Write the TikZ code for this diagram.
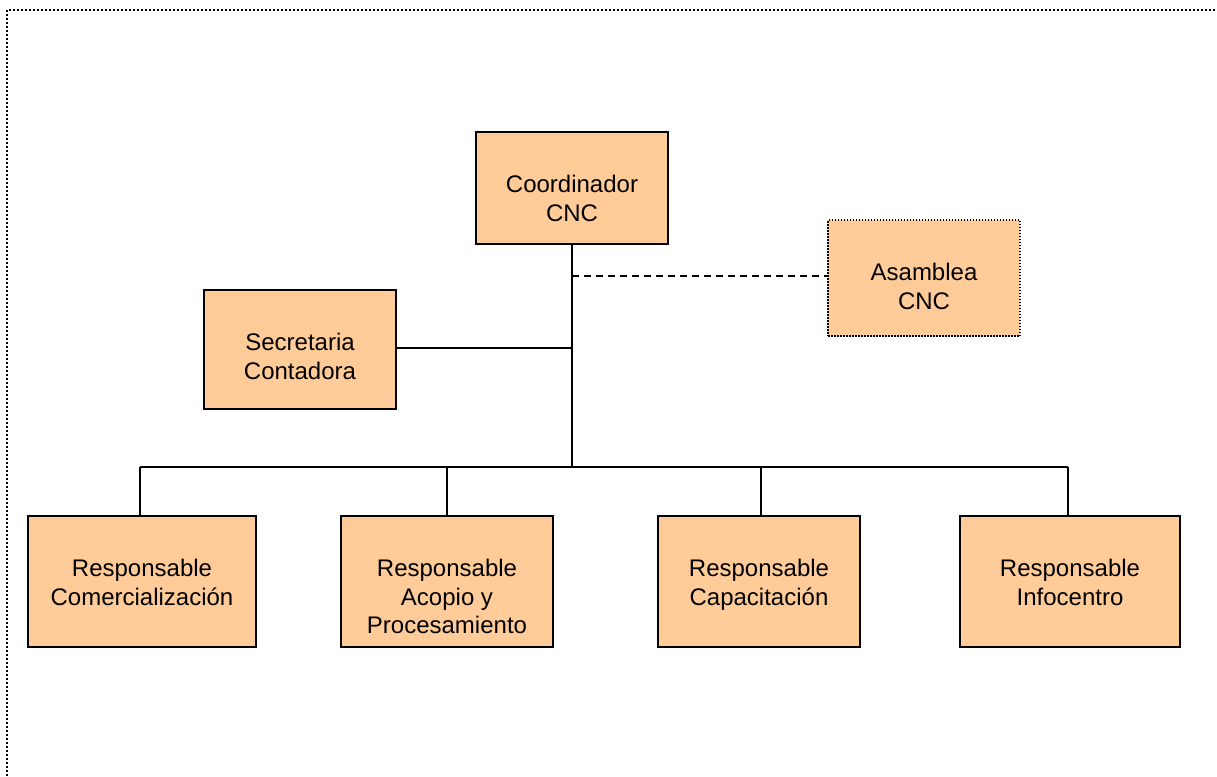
\documentclass[tikz,border=0pt]{standalone}
\usepackage{fontspec}
\setmainfont{Liberation Sans}
\definecolor{boxfill}{HTML}{FFCC99}
\begin{document}
\begin{tikzpicture}[x=1pt,y=-1pt,
  orgbox/.style={draw=black,line width=2pt,fill=boxfill,inner sep=0pt},
  dotbox/.style={draw=black,line width=1.5pt,dash pattern=on 1.5pt off 1.5pt,fill=boxfill,inner sep=0pt},
  boxtext/.style={anchor=north,inner sep=0pt,align=center,font=\fontsize{24}{28.5}\selectfont},
  conn/.style={line width=2pt,draw=black},
  dashconn/.style={line width=2pt,draw=black,dash pattern=on 7pt off 5pt},
  frame/.style={line width=2pt,dash pattern=on 2pt off 2pt,draw=black}]
\useasboundingbox (0,0) rectangle (1217,776);
\draw[frame] (7,776) -- (7,10) -- (1217,10);
% boxes
\node[orgbox,minimum width=192pt,minimum height=112pt] (coord) at (572,188) {};
\node[dotbox,minimum width=192pt,minimum height=116pt] (asam) at (924,278) {};
\node[orgbox,minimum width=192pt,minimum height=119pt] (secr) at (300,349.5) {};
\node[orgbox,minimum width=228pt,minimum height=131pt] (comer) at (142,581.5) {};
\node[orgbox,minimum width=212pt,minimum height=131pt] (acop) at (447,581.5) {};
\node[orgbox,minimum width=202pt,minimum height=131pt] (capa) at (759,581.5) {};
\node[orgbox,minimum width=220pt,minimum height=131pt] (info) at (1070,581.5) {};
% texts
\node[boxtext] (coordT) at ([yshift=-44pt]coord.north) {Coordinador\\CNC};
\node[boxtext] (asamT) at ([yshift=-44pt]asam.north) {Asamblea\\CNC};
\node[boxtext] (secrT) at ([yshift=-44pt]secr.north) {Secretaria\\Contadora};
\node[boxtext] (comerT) at ([yshift=-44pt]comer.north) {Responsable\\Comercialización};
\node[boxtext] (acopT) at ([yshift=-44pt]acop.north) {Responsable\\Acopio y\\Procesamiento};
\node[boxtext] (capaT) at ([yshift=-44pt]capa.north) {Responsable\\Capacitación};
\node[boxtext] (infoT) at ([yshift=-44pt]info.north) {Responsable\\Infocentro};
% junction coordinates
\coordinate (busC) at (572,467);
\coordinate (asJ) at (572,275.5);
\coordinate (seJ) at (572,348);
\coordinate (b1) at (140,467);
\coordinate (b2) at (447,467);
\coordinate (b3) at (761,467);
\coordinate (b4) at (1068,467);
% connectors
\draw[conn] (coord.south) -- (busC);
\draw[dashconn] (asJ) -- (asam.west |- asJ);
\draw[conn] (secr.east |- seJ) -- (seJ);
\draw[conn] (b1) -- (b4);
\draw[conn] (b1) -- (b1 |- comer.north);
\draw[conn] (b2) -- (b2 |- acop.north);
\draw[conn] (b3) -- (b3 |- capa.north);
\draw[conn] (b4) -- (b4 |- info.north);
\end{tikzpicture}
\end{document}
